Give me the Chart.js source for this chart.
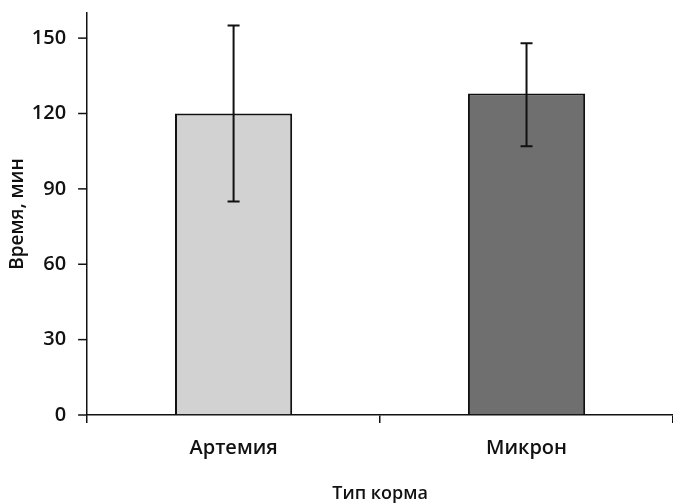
<!DOCTYPE html>
<html>
<head>
<meta charset="utf-8">
<script src="https://cdn.jsdelivr.net/npm/chart.js@4.4.0/dist/chart.umd.min.js"></script>
<style>
  html, body { margin: 0; padding: 0; background: #fff; }
</style>
</head>
<body>
<canvas id="feedChart" width="673" height="503"></canvas>
<script>
var feedTypes = ['Артемия', 'Микрон'];
var meanTime = [120, 128];
var errLow = [85, 107];
var errHigh = [155, 148];
var yTicks = [0, 30, 60, 90, 120, 150];
var barColors = ['#d2d2d2', '#6f6f6f'];

// error bars and the short y tick marks, both placed through the y scale
var errorBars = {
    id: 'errorBars',
    afterDatasetsDraw: function (chart) {
        var ctx = chart.ctx;
        var y = chart.scales.y;
        var meta = chart.getDatasetMeta(0);
        ctx.save();
        ctx.strokeStyle = '#111';
        ctx.lineWidth = 2;
        meta.data.forEach(function (bar, i) {
            var top = y.getPixelForValue(errHigh[i]);
            var bot = y.getPixelForValue(errLow[i]);
            ctx.beginPath();
            ctx.moveTo(bar.x, top);
            ctx.lineTo(bar.x, bot);
            ctx.moveTo(bar.x - 6, top);
            ctx.lineTo(bar.x + 6, top);
            ctx.moveTo(bar.x - 6, bot);
            ctx.lineTo(bar.x + 6, bot);
            ctx.stroke();
        });
        ctx.lineWidth = 1.5;
        yTicks.forEach(function (v) {
            var py = y.getPixelForValue(v);
            ctx.beginPath();
            ctx.moveTo(y.right - 9, py);
            ctx.lineTo(y.right, py);
            ctx.stroke();
        });
        ctx.restore();
    }
};

var ctx = document.getElementById('feedChart').getContext('2d');
var feedChart = new Chart(ctx, {
    type: 'bar',
    data: {
        labels: feedTypes,
        datasets: [{
            data: meanTime,
            backgroundColor: barColors,
            borderColor: '#111',
            borderWidth: 2,
            barPercentage: 0.4,
            categoryPercentage: 1
        }]
    },
    options: {
        responsive: false,
        animation: false,
        layout: { padding: { top: 0, right: 0, bottom: 0, left: 6 } },
        plugins: {
            legend: { display: false },
            tooltip: { enabled: false }
        },
        scales: {
            y: {
                min: 0,
                max: 160,
                afterBuildTicks: function (scale) {
                    scale.ticks = yTicks.map(function (v) { return { value: v }; });
                },
                border: { color: '#111', width: 1.5 },
                grid: { drawOnChartArea: false, color: '#111', tickColor: 'rgba(0,0,0,0)', tickLength: 20, lineWidth: 1.5 },
                ticks: { color: '#111', padding: 1, font: { family: 'Open Sans', size: 20, weight: '600' } },
                title: {
                    display: true,
                    text: 'Время, мин',
                    color: '#111',
                    padding: { top: 0, bottom: 2 },
                    font: { family: 'Open Sans', size: 19, weight: '600' }
                }
            },
            x: {
                border: { color: '#111', width: 1.5 },
                grid: { drawOnChartArea: false, color: '#111', tickLength: 8, lineWidth: 1.5 },
                ticks: { color: '#111', padding: 13, font: { family: 'Open Sans', size: 20, weight: '600' } },
                title: {
                    display: true,
                    text: 'Тип корма',
                    color: '#111',
                    padding: { top: 12, bottom: 0 },
                    font: { family: 'Open Sans', size: 18, weight: '600', lineHeight: 1 }
                }
            }
        }
    },
    plugins: [errorBars]
});
</script>
</body>
</html>
